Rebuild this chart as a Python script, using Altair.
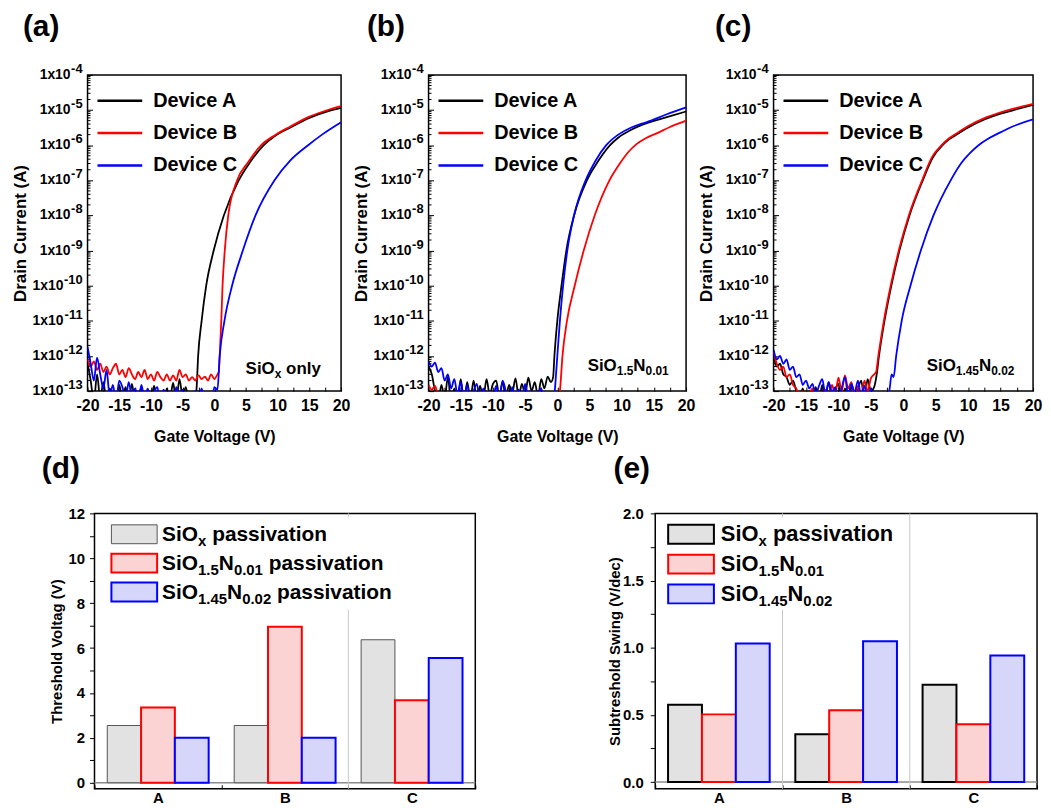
import altair as alt
import pandas as pd

FONT = "Liberation Sans"
BLACK, RED, BLUE = "#000000", "#ff0000", "#0000ff"
DEVICES = ["Device A", "Device B", "Device C"]
DEVICE_COLORS = [BLACK, RED, BLUE]

# ---------------- transfer curves (gate voltage V, drain current A) ----------------
NOISE_V = [-20.0, -19.5, -19.0, -18.5, -18.0, -17.5, -17.0, -16.5, -16.0, -15.5,
           -15.0, -14.5, -14.0, -13.5, -13.0, -12.5, -12.0, -11.5, -11.0, -10.5,
           -10.0, -9.5, -9.0, -8.5, -8.0, -7.5, -7.0, -6.5, -6.0, -5.5,
           -5.0, -4.5, -4.0, -3.5, -3.0, -2.5, -2.0, -1.5, -1.0, -0.5,
           0.0, 0.5]

# panel (a) SiOx only
A_A_NOISE = [6e-13, 2e-13, 0.5e-13, 3e-13, 0.6e-13, 1.8e-13, 0.5e-13, 1.2e-13, 0.6e-13, 0.4e-13,
             1.5e-13, 0.6e-13, 1.3e-13, 0.5e-13, 1.6e-13, 0.5e-13, 0.8e-13, 1.2e-13, 0.4e-13, 1.1e-13,
             0.6e-13, 1.4e-13, 0.5e-13, 0.9e-13, 0.4e-13, 1.2e-13, 0.6e-13, 1.7e-13, 0.5e-13, 2.2e-13,
             0.7e-13, 1.3e-13, 0.5e-13, 0.8e-13]
A_A_RISE_V = [-3.0, -2.8, -2.55, -2.0, -1.28, -0.1, 1.5, 3.85, 5.6, 7.8, 9.5, 12.0, 15.0, 18.0, 20.0]
A_A_RISE_I = [0.7e-13, 1.2e-13, 1e-12, 1e-11, 1e-10, 1e-9, 1e-8, 1e-7, 3.2e-7, 1e-6, 1.8e-6, 3.2e-6,
              6e-6, 9.3e-6, 1.15e-5]

A_B_NOISE = [8e-13, 5e-13, 7e-13, 4e-13, 6e-13, 3.5e-13, 5e-13, 3e-13, 4.5e-13, 6e-13,
             3e-13, 4e-13, 2.5e-13, 4.5e-13, 3e-13, 2.2e-13, 3.5e-13, 2.5e-13, 4e-13, 2.2e-13,
             3e-13, 2e-13, 3.5e-13, 2.5e-13, 2e-13, 3e-13, 2e-13, 2.8e-13, 2e-13, 4e-13,
             2.5e-13, 3e-13, 2e-13, 2.5e-13, 2e-13, 2.8e-13, 2.2e-13, 2.6e-13, 2e-13, 3e-13,
             2.2e-13, 3e-13]
A_B_RISE_V = [0.7, 0.85, 1.1, 1.3, 1.65, 2.2, 3.6, 5.3, 7.4, 9.5, 12.0, 15.0, 18.0, 20.0]
A_B_RISE_I = [3.5e-13, 1e-12, 1e-11, 1e-10, 1e-9, 1e-8, 1e-7, 3.2e-7, 1e-6, 1.9e-6, 3.4e-6, 6.5e-6,
              1.02e-5, 1.3e-5]

A_C_NOISE = [1.8e-12, 6e-13, 2e-13, 9e-13, 3e-13, 1.2e-13, 4e-13, 0.7e-13, 1.5e-13, 0.5e-13,
             2e-13, 1.3e-13, 0.6e-13, 1.8e-13, 0.7e-13, 1.2e-13, 0.5e-13, 1.5e-13, 0.6e-13, 1.2e-13,
             0.4e-13, 0.9e-13, 1.3e-13, 0.5e-13, 1.1e-13, 0.6e-13, 1.0e-13, 0.4e-13, 1.3e-13, 0.6e-13,
             1.1e-13, 0.5e-13, 0.8e-13, 0.4e-13, 1.0e-13, 0.6e-13, 1.2e-13, 0.5e-13, 0.9e-13, 0.4e-13,
             1.3e-13, 1.1e-13]
A_C_RISE_V = [0.85, 1.6, 2.8, 4.5, 6.5, 9.5, 12.0, 14.8, 17.0, 20.0]
A_C_RISE_I = [1e-12, 1e-11, 1e-10, 1e-9, 1e-8, 1e-7, 3.7e-7, 1e-6, 2e-6, 4.5e-6]

# panel (b) SiO1.5N0.01
B_A_NOISE = [5e-13, 3e-13, 1.0e-13, 0.5e-13, 1.5e-13, 0.6e-13, 2.5e-13, 0.5e-13, 1.2e-13, 0.6e-13,
             2.2e-13, 0.5e-13, 1.8e-13, 0.6e-13, 2.0e-13, 0.5e-13, 1.4e-13, 0.6e-13, 2.2e-13, 0.8e-13,
             1.6e-13, 2.0e-13, 0.7e-13, 1.9e-13, 0.6e-13, 1.5e-13, 0.9e-13, 2.3e-13, 0.7e-13, 1.6e-13,
             0.8e-13, 2.4e-13, 1.0e-13, 1.8e-13, 0.7e-13, 2.2e-13, 1.2e-13, 2.6e-13, 1.8e-13]
B_A_RISE_V = [-0.65, -0.45, 0.0, 0.65, 1.4, 2.6, 4.6, 6.2, 8.2, 9.5, 11.5, 14.0, 17.0, 20.0]
B_A_RISE_I = [2.5e-13, 1e-12, 1e-11, 1e-10, 1e-9, 1e-8, 1e-7, 3.2e-7, 1e-6, 1.66e-6, 2.75e-6, 4.3e-6,
              6.3e-6, 9.1e-6]

B_B_NOISE = [1.5e-13, 1.1e-13, 1.4e-13, 0.7e-13, 0.4e-13, 0.5e-13, 0.3e-13, 0.5e-13, 0.4e-13, 0.3e-13,
             0.5e-13, 0.4e-13, 0.3e-13, 0.5e-13, 0.4e-13, 0.3e-13, 0.5e-13, 0.4e-13, 0.3e-13, 0.5e-13,
             0.4e-13, 0.3e-13, 0.5e-13, 0.4e-13, 0.3e-13, 0.5e-13, 0.4e-13, 0.3e-13, 0.5e-13, 0.4e-13,
             0.3e-13, 0.5e-13, 0.4e-13, 0.3e-13, 0.5e-13, 0.4e-13, 0.3e-13, 0.5e-13, 0.4e-13, 0.3e-13,
             0.5e-13]
B_B_RISE_V = [0.4, 0.8, 1.5, 2.7, 4.1, 5.8, 8.1, 9.6, 11.0, 12.3, 13.8, 15.5, 17.5, 20.0]
B_B_RISE_I = [1e-13, 1e-12, 1e-11, 1e-10, 1e-9, 1e-8, 1e-7, 2.8e-7, 6.3e-7, 1.07e-6, 1.6e-6, 2.2e-6,
              3.3e-6, 5e-6]

B_C_NOISE = [7e-13, 5e-13, 6.5e-13, 3.5e-13, 4.5e-13, 2e-13, 3e-13, 1.2e-13, 2.2e-13, 0.8e-13,
             1.8e-13, 0.6e-13, 1.5e-13, 0.5e-13, 1.0e-13, 1.6e-13, 0.5e-13, 1.2e-13, 0.4e-13, 1.0e-13,
             0.6e-13, 1.4e-13, 0.5e-13, 2.0e-13, 1.0e-13, 0.5e-13, 1.3e-13, 0.6e-13, 1.1e-13, 0.5e-13,
             1.6e-13, 0.6e-13, 1.0e-13, 0.5e-13, 0.8e-13, 1.2e-13, 0.5e-13, 0.9e-13, 0.5e-13, 0.7e-13]
B_C_RISE_V = [-0.2, 0.0, 0.4, 0.9, 1.55, 2.6, 4.4, 5.9, 7.6, 9.3, 11.5, 14.0, 17.0, 20.0]
B_C_RISE_I = [3e-13, 1e-12, 1e-11, 1e-10, 1e-9, 1e-8, 1e-7, 3.5e-7, 1e-6, 1.9e-6, 3.2e-6, 4.6e-6,
              7.6e-6, 1.2e-5]

# panel (c) SiO1.45N0.02
C_A_NOISE = [1e-12, 5e-13, 6e-13, 3e-13, 2.5e-13, 1.5e-13, 2e-13, 1.0e-13, 0.6e-13, 1.2e-13,
             0.5e-13, 1.0e-13, 0.6e-13, 1.3e-13, 0.5e-13, 1.5e-13, 0.7e-13, 1.8e-13, 0.6e-13, 1.1e-13,
             1.6e-13, 0.5e-13, 1.2e-13, 0.6e-13, 1.4e-13, 0.5e-13, 1.1e-13, 2.0e-13, 0.6e-13, 2.2e-13,
             1.0e-13, 1.3e-13]
C_A_RISE_V = [-4.1, -3.75, -2.9, -1.85, -0.6, 0.95, 3.0, 4.5, 6.05, 7.0, 8.0, 10.0, 12.5, 15.0, 17.0, 20.0]
C_A_RISE_I = [3e-13, 1e-12, 1e-11, 1e-10, 1e-9, 1e-8, 1e-7, 4.3e-7, 1e-6, 1.45e-6, 1.9e-6, 3.2e-6,
              5.4e-6, 7.9e-6, 1e-5, 1.4e-5]

C_B_NOISE = [1.3e-12, 6e-13, 4e-13, 5e-13, 2.5e-13, 3e-13, 1.5e-13, 1.2e-13, 0.7e-13, 1.0e-13,
             0.5e-13, 0.8e-13, 1.2e-13, 0.6e-13, 1.0e-13, 0.5e-13, 1.1e-13, 0.6e-13, 1.5e-13, 0.8e-13,
             2.4e-13, 1.0e-13, 2.8e-13, 1.2e-13, 1.8e-13, 0.6e-13, 1.4e-13, 0.7e-13, 2.0e-13, 1.0e-13,
             2.3e-13, 3.0e-13]
C_B_RISE_V = [-4.2, -3.85, -3.0, -1.95, -0.7, 0.85, 2.9, 4.4, 5.9, 7.0, 8.0, 10.0, 12.5, 15.0, 17.0, 20.0]
C_B_RISE_I = [3.5e-13, 1e-12, 1e-11, 1e-10, 1e-9, 1e-8, 1e-7, 4.5e-7, 1e-6, 1.55e-6, 2.05e-6, 3.5e-6,
              5.9e-6, 8.6e-6, 1.1e-5, 1.5e-5]

C_C_NOISE = [1.5e-12, 8e-13, 1e-12, 6e-13, 8e-13, 4e-13, 5e-13, 2.5e-13, 3e-13, 1.5e-13,
             2e-13, 1.2e-13, 1.6e-13, 0.8e-13, 1.4e-13, 2.2e-13, 0.8e-13, 1.8e-13, 0.9e-13, 1.3e-13,
             0.6e-13, 1.2e-13, 2.5e-13, 0.8e-13, 1.6e-13, 0.9e-13, 2.0e-13, 0.7e-13, 1.4e-13, 0.6e-13,
             1.2e-13, 0.5e-13, 0.8e-13, 0.4e-13, 0.5e-13, 0.6e-13]
C_C_RISE_V = [-2.1, -1.8, -1.5, -1.1, -0.25, 1.1, 2.7, 4.65, 7.3, 9.0, 10.3, 11.6, 13.0, 14.5, 16.5, 20.0]
C_C_RISE_I = [1.2e-13, 3e-13, 2.5e-13, 1e-12, 1e-11, 1e-10, 1e-9, 1e-8, 1e-7, 3.2e-7, 6e-7, 1e-6,
              1.5e-6, 2.1e-6, 3.2e-6, 5.4e-6]

# ---------------- bar charts ----------------
GROUPS = ["A", "B", "C"]
SERIES = ["SiOx", "SiO1.5N0.01", "SiO1.45N0.02"]
VTH_SIOX = [2.55, 2.55, 6.37]
VTH_SION1 = [3.35, 6.95, 3.68]
VTH_SION2 = [2.0, 2.0, 5.56]
SS_SIOX = [0.576, 0.356, 0.724]
SS_SION1 = [0.504, 0.534, 0.43]
SS_SION2 = [1.031, 1.048, 0.942]

ONE = pd.DataFrame({"k": [0]})

# Arial/Liberation Sans Bold advance widths (per 1000 em)
W = {' ': 278, '.': 278, 'S': 667, 'i': 278, 'O': 778, 'N': 722, 'x': 556, 'p': 611,
     'a': 556, 's': 556, 'v': 556, 't': 333, 'o': 611, 'n': 611, 'l': 278, 'y': 556, '-': 333,
     '0': 556, '1': 556, '2': 556, '3': 556, '4': 556, '5': 556, '6': 556, '7': 556, '8': 556, '9': 556}


def tw(s, size):
    return sum(W[c] for c in s) / 1000.0 * size


def rich_text(pieces, x0, y0, size, sub_size, sub_dy):
    layers = []
    x = x0
    for txt, sub in pieces:
        fs = sub_size if sub else size
        if txt.startswith(" "):
            x += tw(" ", fs)
            txt = txt.lstrip()
        layers.append(
            alt.Chart(ONE).mark_text(text=txt, align="left", baseline="alphabetic", font=FONT,
                                     fontWeight="bold", fontSize=fs, color="black")
            .encode(x=alt.value(x), y=alt.value(y0 + (sub_dy if sub else 0)))
        )
        x += tw(txt, fs)
    return layers


Y_EXPS = list(range(-4, -14, -1))
Y_TICKS = [10.0 ** k for k in Y_EXPS]
Y_MINOR = [m * 10.0 ** k for k in range(-13, -4) for m in range(2, 10)]
X_TICKS = [-20, -17.5, -15, -12.5, -10, -7.5, -5, -2.5, 0, 2.5, 5, 7.5, 10, 12.5, 15, 17.5, 20]
LAB_MAIN, LAB_SUP = 14, 13

TOP_H = 318


def iv_panel(letter, width, series, title_dx, annot_pieces, annot_x, annot_y):
    xs = alt.Scale(domain=[-20, 20], nice=False, zero=False)
    ys = alt.Scale(type="log", domain=[1e-13, 1e-4], nice=False)
    x_axis = alt.Axis(values=X_TICKS, labelExpr="datum.value % 5 == 0 ? '' + datum.value : ''",
                      title="Gate Voltage (V)", titleFontSize=16, titlePadding=15,
                      labelFontSize=16, labelPadding=7, tickSize=4, offset=-4, domain=False,
                      grid=False, labelOverlap=False, labelFlush=False)
    y_axis = alt.Axis(values=Y_TICKS, labels=False, title="Drain Current (A)", titleFontSize=17,
                      titlePadding=58, tickSize=5, offset=-5, domain=False, grid=False)
    layers = []
    minor = pd.DataFrame({"t": Y_MINOR})
    layers.append(alt.Chart(minor).mark_rule(color="black", strokeWidth=1).encode(
        y=alt.Y("t:Q", scale=ys, axis=y_axis), x=alt.value(0), x2=alt.value(3)))
    # tick labels 1x10^n with real superscripts
    for group in ([k for k in Y_EXPS if k > -10], [k for k in Y_EXPS if k <= -10]):
        sup_w = tw(str(group[0]), LAB_SUP)
        dfl = pd.DataFrame({"v": [10.0 ** k for k in group], "e": [str(k) for k in group]})
        layers.append(alt.Chart(dfl).mark_text(text="1x10", align="right", baseline="middle", font=FONT,
                                               fontWeight="bold", fontSize=LAB_MAIN, color="black")
                      .encode(y=alt.Y("v:Q", scale=ys, axis=y_axis), x=alt.value(-5 - sup_w - 0.5)))
        layers.append(alt.Chart(dfl).mark_text(align="right", baseline="middle", font=FONT, dy=-6,
                                               fontWeight="bold", fontSize=LAB_SUP, color="black")
                      .encode(y=alt.Y("v:Q", scale=ys, axis=y_axis), x=alt.value(-5), text="e:N"))
    for dev, col, (noise, rv, ri) in zip(DEVICES, DEVICE_COLORS, series):
        vv = NOISE_V[:len(noise)] + rv
        ii = noise + ri
        df = pd.DataFrame({"V": vv, "I": ii})
        layers.append(
            alt.Chart(df).mark_line(color=col, strokeWidth=1.8, clip=True, interpolate="monotone")
            .encode(x=alt.X("V:Q", scale=xs, axis=x_axis), y=alt.Y("I:Q", scale=ys, axis=y_axis))
        )
    leg_y = [26, 58.5, 91]
    for i, (dev, col) in enumerate(zip(DEVICES, DEVICE_COLORS)):
        layers.append(alt.Chart(ONE).mark_rule(color=col, strokeWidth=2.5).encode(
            x=alt.value(10), x2=alt.value(55), y=alt.value(leg_y[i])))
        layers.append(alt.Chart(ONE).mark_text(text=dev, align="left", baseline="middle", font=FONT,
                                               fontWeight="bold", fontSize=20, color="black")
                      .encode(x=alt.value(66), y=alt.value(leg_y[i])))
    layers += rich_text(annot_pieces, annot_x, annot_y, 17, 12, 4)
    return alt.layer(*layers).properties(
        width=width, height=TOP_H,
        title=alt.TitleParams(text=letter, anchor="start", frame="group", dx=title_dx, offset=21,
                              fontSize=30, font=FONT, fontWeight="bold", color="black"))


BOT_H = 277
LIGHT = {"SiOx": "#e2e2e2", "SiO1.5N0.01": "#fbd3d3", "SiO1.45N0.02": "#d6d6fa"}


def bar_panel(letter, width, vals, ymax, ymin, y_ticks, label_expr, ytitle, lab_pad, title_pad,
              title_dx, gray_stroke, gray_width, seps, white_w, leg_cy, leg_x0, leg_tx, leg_size,
              second_suffix):
    xs = alt.Scale(domain=GROUPS, paddingInner=0, paddingOuter=0)
    ys = alt.Scale(domain=[ymin, ymax], nice=False, zero=False)
    xo = alt.Scale(domain=SERIES, paddingInner=0, paddingOuter=0.378)
    x_axis = alt.Axis(title=None, labelAngle=0, labelFontSize=15, labelPadding=2, tickBand="extent",
                      tickSize=4, offset=-4, domain=False, grid=False)
    y_axis = alt.Axis(values=y_ticks, labelExpr=label_expr, title=ytitle, titleFontSize=15,
                      titlePadding=title_pad, labelFontSize=15, labelPadding=lab_pad, tickSize=5,
                      domain=False, grid=False, labelOverlap=False, labelFlush=False)
    layers = []
    layers.append(alt.Chart(ONE).mark_rule(color="#8c8c8c", strokeWidth=1.5).encode(
        y=alt.Y(datum=0, scale=ys, axis=y_axis)))
    sep_df = pd.DataFrame({"group": seps})
    layers.append(alt.Chart(sep_df).mark_rule(color="#c8c8c8", strokeWidth=1).encode(
        x=alt.X("group:N", bandPosition=0, scale=xs, axis=x_axis)))
    strokes = [gray_stroke, RED, BLUE]
    widths = [gray_width, 2, 2]
    for s, v, sc, sw in zip(SERIES, vals, strokes, widths):
        df = pd.DataFrame({"group": GROUPS, "series": [s] * 3, "value": v})
        layers.append(
            alt.Chart(df).mark_bar(fill=LIGHT[s], stroke=sc, strokeWidth=sw)
            .encode(x=alt.X("group:N", scale=xs, axis=x_axis),
                    xOffset=alt.XOffset("series:N", scale=xo),
                    y=alt.Y("value:Q", scale=ys, axis=y_axis), y2=alt.Y2(datum=0))
        )
    # legend
    layers.append(alt.Chart(ONE).mark_rect(fill="white").encode(
        x=alt.value(6), x2=alt.value(white_w), y=alt.value(4), y2=alt.value(97)))
    label_pieces = [
        [("SiO", 0), ("x", 1), (" passivation", 0)],
        [("SiO", 0), ("1.5", 1), ("N", 0), ("0.01", 1)] + ([(" passivation", 0)] if second_suffix else []),
        [("SiO", 0), ("1.45", 1), ("N", 0), ("0.02", 1)] + ([(" passivation", 0)] if second_suffix else []),
    ]
    for i, s in enumerate(SERIES):
        layers.append(alt.Chart(ONE).mark_rect(fill=LIGHT[s], stroke=strokes[i], strokeWidth=widths[i])
                      .encode(x=alt.value(leg_x0), x2=alt.value(leg_x0 + 46),
                              y=alt.value(leg_cy[i] - 9.5), y2=alt.value(leg_cy[i] + 9.5)))
        layers += rich_text(label_pieces[i], leg_tx, leg_cy[i] + 7, leg_size, 15, 5)
    return alt.layer(*layers).properties(
        width=width, height=BOT_H,
        title=alt.TitleParams(text=letter, anchor="start", frame="group", dx=title_dx, offset=23,
                              fontSize=30, font=FONT, fontWeight="bold", color="black"))


pa = iv_panel("(a)", 255, [(A_A_NOISE, A_A_RISE_V, A_A_RISE_I), (A_B_NOISE, A_B_RISE_V, A_B_RISE_I),
                           (A_C_NOISE, A_C_RISE_V, A_C_RISE_I)], -65,
              [("SiO", 0), ("x", 1), (" only", 0)], 159, 301)
pb = iv_panel("(b)", 259, [(B_A_NOISE, B_A_RISE_V, B_A_RISE_I), (B_B_NOISE, B_B_RISE_V, B_B_RISE_I),
                           (B_C_NOISE, B_C_RISE_V, B_C_RISE_I)], -62,
              [("SiO", 0), ("1.5", 1), ("N", 0), ("0.01", 1)], 160, 298)
pc = iv_panel("(c)", 261, [(C_A_NOISE, C_A_RISE_V, C_A_RISE_I), (C_B_NOISE, C_B_RISE_V, C_B_RISE_I),
                           (C_C_NOISE, C_C_RISE_V, C_C_RISE_I)], -59,
              [("SiO", 0), ("1.45", 1), ("N", 0), ("0.02", 1)], 154, 298)

pd_ = bar_panel("(d)", 383, [VTH_SIOX, VTH_SION1, VTH_SION2], 12, -0.27, list(range(13)),
                "datum.value % 2 == 0 ? datum.label : ''", "Threshold Voltag (V)", 5, 3, -53,
                "#555555", 1, ["C"], 310, [21, 50, 79], 17, 68, 21, True)
pe = bar_panel("(e)", 384, [SS_SIOX, SS_SION1, SS_SION2], 2.0, -0.05,
               [0, 0.25, 0.5, 0.75, 1.0, 1.25, 1.5, 1.75, 2.0],
               "round(datum.value * 4) % 2 == 0 ? format(datum.value, '.1f') : ''",
               "Subtreshold Swing (V/dec)", 7, 0, -42, BLACK, 2, ["B", "C"], 250, [21, 51, 81], 13, 66,
               22, False)

spacer = alt.Chart(ONE).mark_point(opacity=0).encode(x=alt.value(0), y=alt.value(0)).properties(
    width=7, height=BOT_H, view=alt.ViewBackground(stroke="transparent"))

top = alt.hconcat(pa, pb, pc, spacing=88, bounds="flush").resolve_scale(x="independent", y="independent")
bottom_inner = alt.hconcat(pd_, pe, spacing=181, bounds="flush").resolve_scale(
    x="independent", y="independent", xOffset="independent")
bottom = alt.hconcat(spacer, bottom_inner, spacing=0, bounds="flush")
chart = alt.vconcat(top, bottom, spacing=7).properties(
    padding={"left": 2, "top": 1, "right": 0, "bottom": 0}
).configure_view(stroke="black", strokeWidth=1.5).configure_axis(
    labelFont=FONT, titleFont=FONT, labelFontWeight="bold", titleFontWeight="bold",
    labelColor="black", titleColor="black", tickColor="black", tickWidth=1
)

chart.save("out.html", embed_options={"renderer": "svg", "actions": False})
